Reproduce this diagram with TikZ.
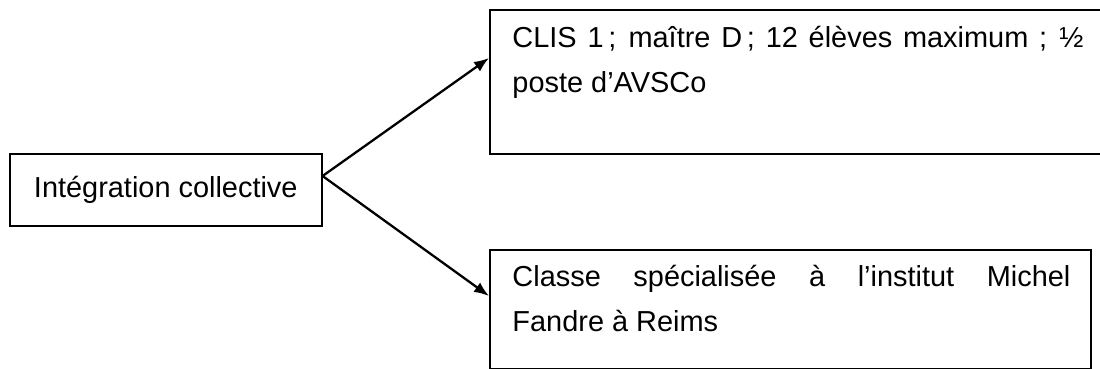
\documentclass[tikz,border=0pt]{standalone}
\usepackage{fontspec}
\setmainfont{Liberation Sans}
\usepackage{tikz}
\usetikzlibrary{arrows.meta}
\usetikzlibrary{calc}
\newdimen\px \px=0.415pt

\begin{document}
\begin{tikzpicture}[x=0.415pt, y=-0.415pt]

\tikzstyle{cadre}=[draw=black, line width=0.65pt, inner sep=0pt,
anchor=north west, font=\fontsize{12}{19}\selectfont]
\tikzstyle{texte}=[anchor=base west, inner sep=0pt, align=justify,
font=\fontsize{12}{19}\selectfont]
\tikzstyle{fleche}=[line width=0.95pt, -{Latex[length=6.2pt,width=4.8pt]}]

\useasboundingbox (0,0) rectangle (1100,369);

\node[cadre, minimum width=312\px, minimum height=72\px] (integ) at (9,153) {Int\'egration collective};
\node[cadre, minimum width=626\px, minimum height=144\px] (clis) at (489,9) {};
\node[cadre, minimum width=601\px, minimum height=119\px] (classe) at (489,249) {};

\node[texte, text width=571\px] (clistxt) at ($(clis.north west)+(23,38)$)
{CLIS 1\,; maître D\,; 12 élèves maximum ; ½\linebreak poste d’AVSCo};
\node[texte, text width=558\px] (classetxt) at ($(classe.north west)+(23,37)$)
{Classe spécialisée à l’institut Michel\linebreak Fandre à Reims};

\draw[fleche] ($(integ.north east)+(0,23)$) -- ($(clis.north west)+(0,49)$);
\draw[fleche] ($(integ.north east)+(0,23)$) -- ($(classe.north west)+(0,47)$);
\end{tikzpicture}
\end{document}
